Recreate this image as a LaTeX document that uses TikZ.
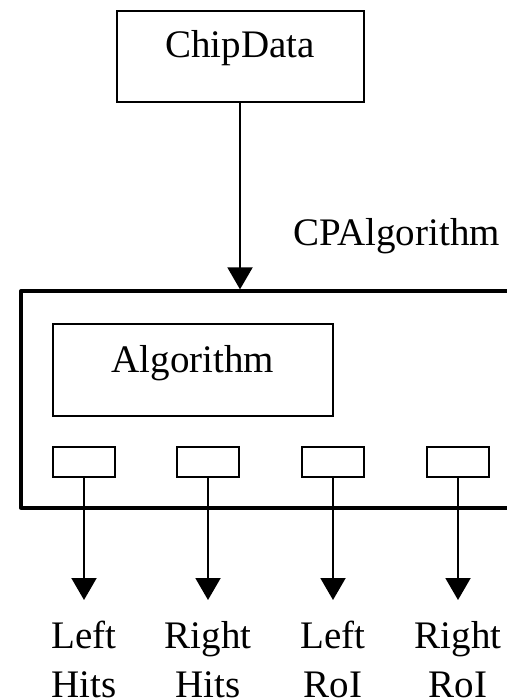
\documentclass[tikz,border=0pt]{standalone}
\usepackage{fontspec}
\setmainfont{Liberation Serif}
\usetikzlibrary{arrows.meta}

\begin{document}
\begin{tikzpicture}[x=1pt,y=-1pt,
    box/.style={draw,line width=2pt,inner sep=0pt},
    port/.style={draw,line width=2pt,minimum width=62pt,minimum height=30pt,inner sep=0pt},
    outlbl/.style={anchor=north,align=center,inner xsep=0pt,inner ysep=21pt},
    arr/.style={line width=2pt,-{Triangle[width=25pt,length=22pt]}}]
    \useasboundingbox (0,0) rectangle (506,700);
    \fontsize{39}{49}\selectfont
    \node[box,minimum width=247pt,text height=47pt,text depth=44pt] (chip) at (240,56.5) {ChipData};
    \node[draw,line width=3.3pt,line join=round,minimum width=530pt,minimum height=217pt,inner sep=0pt] (cpalg) at (286,399.5) {};
    \node[anchor=base west,inner sep=0pt] (cpname) at (293,245) {CPAlgorithm};
    \node[box,minimum width=280pt,text height=49pt,text depth=43pt] (alg) at (193,369.5) {Algorithm};
    \draw[arr] (chip) -- (chip.south |- cpalg.north);
    % output ports
    \node[port] (p1) at (84,462) {};
    \node[port] (p2) at (208,462) {};
    \node[port] (p3) at (333,462) {};
    \node[port] (p4) at (458,462) {};
    \node[outlbl] (o1) at (84,600) {Left\\Hits};
    \node[outlbl] (o2) at (208,600) {Right\\Hits};
    \node[outlbl] (o3) at (333,600) {Left\\RoI};
    \node[outlbl] (o4) at (458,600) {Right\\RoI};
    \draw[arr] (p1) -- (o1);
    \draw[arr] (p2) -- (o2);
    \draw[arr] (p3) -- (o3);
    \draw[arr] (p4) -- (o4);
\end{tikzpicture}
\end{document}
